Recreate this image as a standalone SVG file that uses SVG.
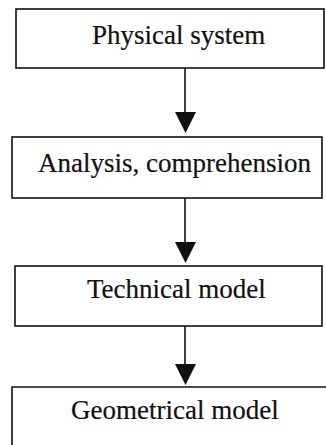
<svg xmlns="http://www.w3.org/2000/svg" width="326" height="445" viewBox="0 0 326 445">
  <style>
    .box { fill: #ffffff; stroke: #111111; stroke-width: 1.6; }
    .label { font-family: "Liberation Serif", "Times New Roman", serif; font-size: 27px; fill: #111111; stroke: #111111; stroke-width: 0.2; }
    .link { stroke: #111111; stroke-width: 1.6; fill: none; }
    .head { fill: #111111; }
  </style>
  <rect width="326" height="445" fill="#ffffff"/>

  <g id="connectors">
    <line class="link" x1="185" y1="68" x2="185" y2="116"/>
    <polygon class="head" points="175,112 196,112 185.5,133"/>
    <line class="link" x1="185" y1="198" x2="185" y2="246"/>
    <polygon class="head" points="175,242 196,242 185.5,263"/>
    <line class="link" x1="185" y1="326" x2="185" y2="368"/>
    <polygon class="head" points="175,364 196,364 185.5,385"/>
  </g>

  <g id="physical-system">
    <rect class="box" x="16" y="9" width="308" height="59"/>
    <text class="label" x="92" y="44">Physical system</text>
  </g>

  <g id="analysis">
    <rect class="box" x="12" y="137" width="310" height="61"/>
    <text class="label" x="38" y="172">Analysis, comprehension</text>
  </g>

  <g id="technical-model">
    <rect class="box" x="15" y="266" width="307" height="60"/>
    <text class="label" x="87" y="298">Technical model</text>
  </g>

  <g id="geometrical-model">
    <path class="box" d="M12,446 V387 H327"/>
    <text class="label" x="71" y="419">Geometrical model</text>
  </g>
</svg>
